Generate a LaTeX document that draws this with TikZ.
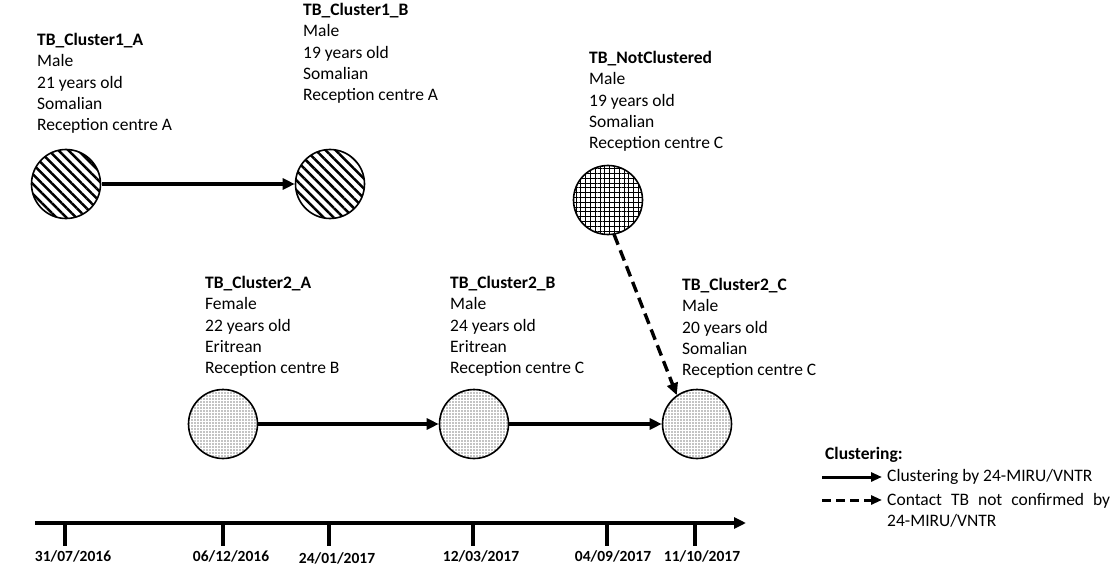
\documentclass[tikz,border=0pt]{standalone}
\usepackage{fontspec}
\setmainfont{Carlito}
\usetikzlibrary{arrows.meta,patterns.meta}
\begin{document}
\begin{tikzpicture}[x=1pt,y=-1pt,
  every node/.style={font=\fontsize{17.5}{21.3}\selectfont},
  info/.style={anchor=north west, inner sep=0pt, align=left},
  case/.style={circle, draw, line width=1.6pt, minimum size=69pt, inner sep=0pt},
  stripefill/.style={case, pattern={Lines[angle=-45,distance=7pt,line width=2.5pt]}},
  crossfill/.style={case, pattern={Hatch[angle=0,distance=4.8pt,line width=0.9pt]}},
  dotfill/.style={case, pattern={Dots[distance=3pt,radius=0.6pt]}},
  link/.style={line width=3.4pt, -{Triangle[length=12pt,width=11pt]}},
  contact/.style={link, dash pattern=on 11pt off 6pt},
  timeaxis/.style={line width=3.4pt, -{Triangle[length=12pt,width=11pt]}},
  tickmark/.style={line width=3.2pt},
  datelab/.style={font=\fontsize{15.5}{18}\selectfont\bfseries, inner sep=0pt}
]
\fill[white] (0,0) rectangle (1114,567);
\useasboundingbox (0,0) rectangle (1114,567);

% case circles
\node[stripefill] (c1a) at (66,184) {};
\node[stripefill] (c1b) at (330,184) {};
\node[crossfill] (cnc) at (608,200) {};
\node[dotfill] (c2a) at (223,424) {};
\node[dotfill] (c2b) at (474,424) {};
\node[dotfill] (c2c) at (697,424) {};

% case descriptions
\node[info] (t1a) at (37,33) {{\bfseries TB\_Cluster1\_A}\\Male\\21 years old\\Somalian\\Reception centre A};
\node[info] (t1b) at (303,3) {{\bfseries TB\_Cluster1\_B}\\Male\\19 years old\\Somalian\\Reception centre A};
\node[info] (tnc) at (589,51) {{\bfseries TB\_NotClustered}\\Male\\19 years old\\Somalian\\Reception centre C};
\node[info] (t2a) at (205,276) {{\bfseries TB\_Cluster2\_A}\\Female\\22 years old\\Eritrean\\Reception centre B};
\node[info] (t2b) at (450,276) {{\bfseries TB\_Cluster2\_B}\\Male\\24 years old\\Eritrean\\Reception centre C};
\node[info] (t2c) at (682,278) {{\bfseries TB\_Cluster2\_C}\\Male\\20 years old\\Somalian\\Reception centre C};

% connectors
\draw[link] (c1a) -- (c1b);
\draw[link] (c2a) -- (c2b);
\draw[link] (c2b) -- (c2c);
\draw[contact] (cnc.-80) -- (c2c.125);

% timeline
\coordinate (ax0) at (35,523);
\coordinate (ax1) at (746,523);
\draw[timeaxis] (ax0) -- (ax1);
\foreach \x [count=\i] in {65, 223, 329, 473, 607, 695}{
  \coordinate (tk\i) at (\x,523);
  \coordinate (tb\i) at (\x,546);
  \draw[tickmark] (tk\i) -- (tb\i);
}
\node[datelab] (d1) at (73,556) {31/07/2016};
\node[datelab] (d2) at (231,556) {06/12/2016};
\node[datelab] (d3) at (337,558) {24/01/2017};
\node[datelab] (d4) at (481,556) {12/03/2017};
\node[datelab] (d5) at (613,556) {04/09/2017};
\node[datelab] (d6) at (702,556) {11/10/2017};

% legend
\node[anchor=west, inner sep=0pt, font=\fontsize{17.5}{21.3}\selectfont\bfseries] (lgtitle) at (825,455) {Clustering:};
\coordinate (ls0) at (822,477);
\coordinate (ls1) at (882,477);
\draw[link, line width=3pt, -{Triangle[length=11pt,width=9pt]}] (ls0) -- (ls1);
\node[anchor=west, inner sep=0pt] (lgsolid) at (887,477) {Clustering by 24-MIRU/VNTR};
\coordinate (ld0) at (822,500);
\coordinate (ld1) at (882,500);
\draw[contact, line width=3pt, dash pattern=on 9pt off 5pt, -{Triangle[length=11pt,width=9pt]}] (ld0) -- (ld1);
\node[info] (lgdash) at (887,493) {\makebox[223pt][s]{Contact TB not confirmed by}\\24-MIRU/VNTR};
\end{tikzpicture}
\end{document}
